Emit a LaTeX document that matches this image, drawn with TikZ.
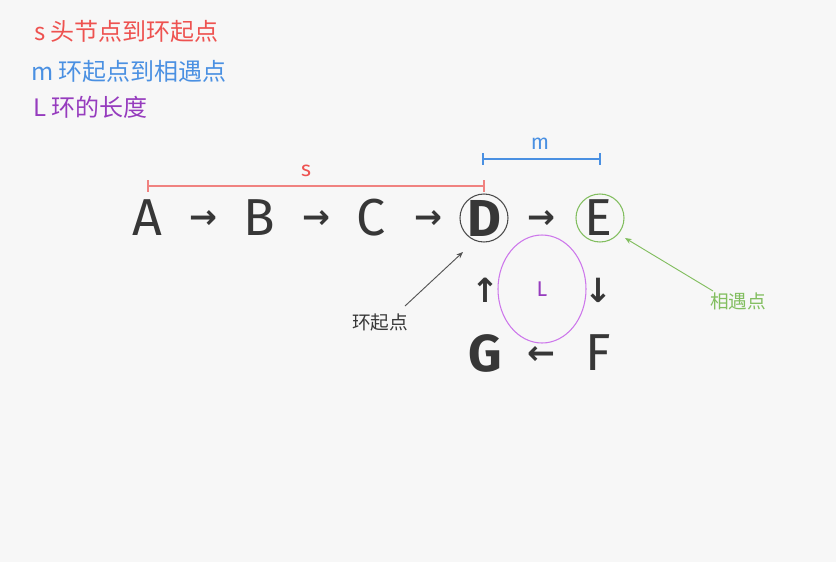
\documentclass[tikz,border=0pt]{standalone}
\usepackage{fontspec}
\setmainfont{Fira Sans}
\newfontfamily\cjk{Noto Sans CJK SC}
\newfontfamily\arr{DejaVu Sans}
\usetikzlibrary{arrows.meta,calc}
\definecolor{bgc}{RGB}{247,247,247}
\definecolor{myred}{RGB}{238,82,80}
\definecolor{redline}{RGB}{240,130,128}
\definecolor{myblue}{RGB}{74,144,226}
\definecolor{mypurple}{RGB}{150,60,190}
\definecolor{ellc}{RGB}{205,120,235}
\definecolor{mygreen}{RGB}{130,190,95}
\definecolor{ink}{RGB}{55,55,55}
\begin{document}
\begin{tikzpicture}[x=0.75pt,y=-0.75pt,
  title/.style={anchor=west,inner sep=0pt,font=\fontsize{18}{21}\selectfont\cjk},
  letter/.style={inner sep=0pt,text=ink,font=\fontsize{39}{44}\selectfont},
  bletter/.style={inner sep=0pt,text=ink,font=\fontsize{39}{44}\selectfont\bfseries},
  arrowglyph/.style={inner sep=0pt,text=ink,font=\fontsize{25}{28}\selectfont\arr\bfseries},
  ring/.style={draw,circle,minimum size=48*0.75pt,inner sep=0pt},
  bar/.style={line width=0.9pt},
  smalllabel/.style={inner sep=0pt,font=\fontsize{14}{17}\selectfont\cjk},
  tag/.style={inner sep=0pt,font=\fontsize{16}{19}\selectfont}]
\fill[bgc] (0,0) rectangle (836,562);
\useasboundingbox (0,0) rectangle (836,562);

\node[title,text=myred] (t1) at (34,31) {s 头节点到环起点};
\node[title,text=myblue] (t2) at (31,71) {m 环起点到相遇点};
\node[title,text=mypurple] (t3) at (33,107) {L 环的长度};

\node[letter] (A) at (147,218) {A};
\node[arrowglyph] (a1) at (203,219) {→};
\node[letter] (B) at (259,218) {B};
\node[arrowglyph] (a2) at (316,219) {→};
\node[letter] (C) at (371,218) {C};
\node[arrowglyph] (a3) at (428,219) {→};
\node[bletter] (D) at (484,218) {D};
\node[arrowglyph] (a4) at (541,219) {→};
\node[letter] (E) at (598,218) {E};
\node[arrowglyph] (a5) at (598,290) {↓};
\node[letter] (F) at (598,353) {F};
\node[arrowglyph] (a6) at (541,355) {←};
\node[bletter] (G) at (485,353) {G};
\node[arrowglyph] (a7) at (485,290) {↑};

\node[ring,draw=ink!90,line width=0.8pt] (Dc) at (484,218) {};
\node[ring,draw=mygreen,line width=0.8pt] (Ec) at (600,218) {};
\draw[ellc,line width=0.8pt] (542,289) ellipse [x radius=44,y radius=54];
\node[tag,text=mypurple] (L) at (542,289) {L};

% s bracket
\coordinate (s1) at (148,186);
\coordinate (s2) at (484,186);
\draw[redline,bar] (s1) -- (s2);
\draw[redline,bar] ($(s1)+(0,-6)$) -- ($(s1)+(0,6)$);
\draw[redline,bar] ($(s2)+(0,-6)$) -- ($(s2)+(0,6)$);
\node[tag,text=myred] (sl) at (306,171) {s};

% m bracket
\coordinate (m1) at (483,159);
\coordinate (m2) at (600,159);
\draw[myblue,bar] (m1) -- (m2);
\draw[myblue,bar] ($(m1)+(0,-6)$) -- ($(m1)+(0,6)$);
\draw[myblue,bar] ($(m2)+(0,-6)$) -- ($(m2)+(0,6)$);
\node[tag,text=myblue] (ml) at (540,144) {m};

% annotations
\node[smalllabel,text=ink] (hq) at (380,322) {环起点};
\coordinate (hqs) at (405,306);
\coordinate (hqe) at (463,252);
\draw[ink!85,line width=0.7pt,-{Stealth[length=5pt,width=4pt]}] (hqs) -- (hqe);

\node[smalllabel,text=mygreen] (xy) at (738,301) {相遇点};
\coordinate (xys) at (713,291);
\coordinate (xye) at (625,238);
\draw[mygreen,line width=0.7pt,-{Stealth[length=5pt,width=4pt]}] (xys) -- (xye);
\end{tikzpicture}
\end{document}
